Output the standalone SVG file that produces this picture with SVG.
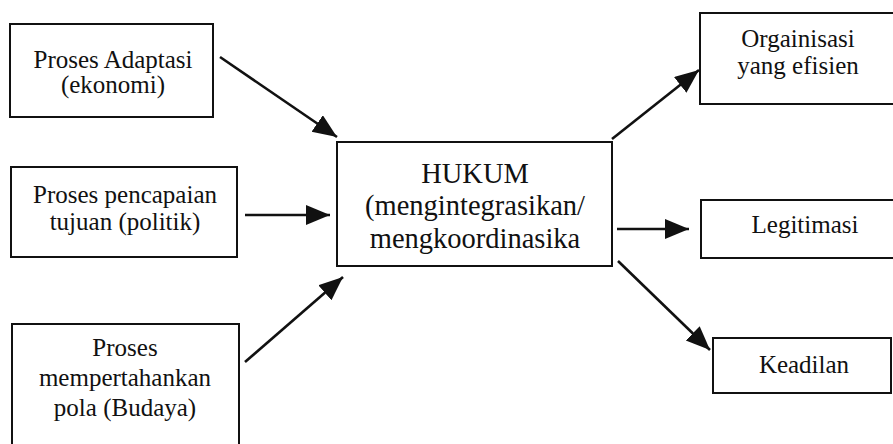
<svg xmlns="http://www.w3.org/2000/svg" width="893" height="444" viewBox="0 0 893 444">
<style>
.box{fill:#fff;stroke:#111;stroke-width:2}
.t{font-family:'Liberation Serif',Tinos,'DejaVu Serif','Noto Serif',serif;font-size:25px;fill:#111;text-anchor:middle}
.c{font-size:28.5px}
.ln{stroke:#111;stroke-width:2.6;fill:none;marker-end:url(#ah)}
</style>
<defs>
<marker id="ah" markerUnits="userSpaceOnUse" markerWidth="26" markerHeight="22" refX="24" refY="10" orient="auto" viewBox="0 0 26 22">
<path d="M0,0 L24,10 L0,20 z" fill="#111"/>
</marker>
</defs>
<rect width="893" height="444" fill="#fff"/>
<g id="n1">
<rect class="box" x="10" y="24" width="203" height="93"/>
<text class="t" x="113" y="68">Proses Adaptasi</text>
<text class="t" x="113" y="93">(ekonomi)</text>
</g>
<g id="n2">
<rect class="box" x="11" y="167" width="226" height="90"/>
<text class="t" x="125" y="203">Proses pencapaian</text>
<text class="t" x="125" y="230">tujuan (politik)</text>
</g>
<g id="n3">
<rect class="box" x="12" y="324" width="227" height="130"/>
<text class="t" x="125" y="356">Proses</text>
<text class="t" x="125" y="386">mempertahankan</text>
<text class="t" x="125" y="416">pola (Budaya)</text>
</g>
<g id="center">
<rect class="box" x="337" y="142" width="275" height="124"/>
<text class="t c" x="475" y="183">HUKUM</text>
<text class="t c" x="475" y="215">(mengintegrasikan/</text>
<text class="t c" x="475" y="248">mengkoordinasika</text>
</g>
<g id="o1">
<rect class="box" x="700" y="13" width="200" height="91"/>
<text class="t" x="798" y="47">Orgainisasi</text>
<text class="t" x="798" y="74">yang efisien</text>
</g>
<g id="o2">
<rect class="box" x="701" y="200" width="200" height="58"/>
<text class="t" x="805" y="233">Legitimasi</text>
</g>
<g id="o3">
<rect class="box" x="713" y="338" width="178" height="55"/>
<text class="t" x="804" y="373">Keadilan</text>
</g>
<g id="connectors">
<line class="ln" x1="220" y1="57" x2="337" y2="137"/>
<line class="ln" x1="245" y1="215" x2="330" y2="215"/>
<line class="ln" x1="245" y1="362" x2="343" y2="277"/>
<line class="ln" x1="612" y1="139" x2="699" y2="70"/>
<line class="ln" x1="617" y1="229" x2="689" y2="229"/>
<line class="ln" x1="618" y1="261" x2="710" y2="350"/>
</g>
</svg>
